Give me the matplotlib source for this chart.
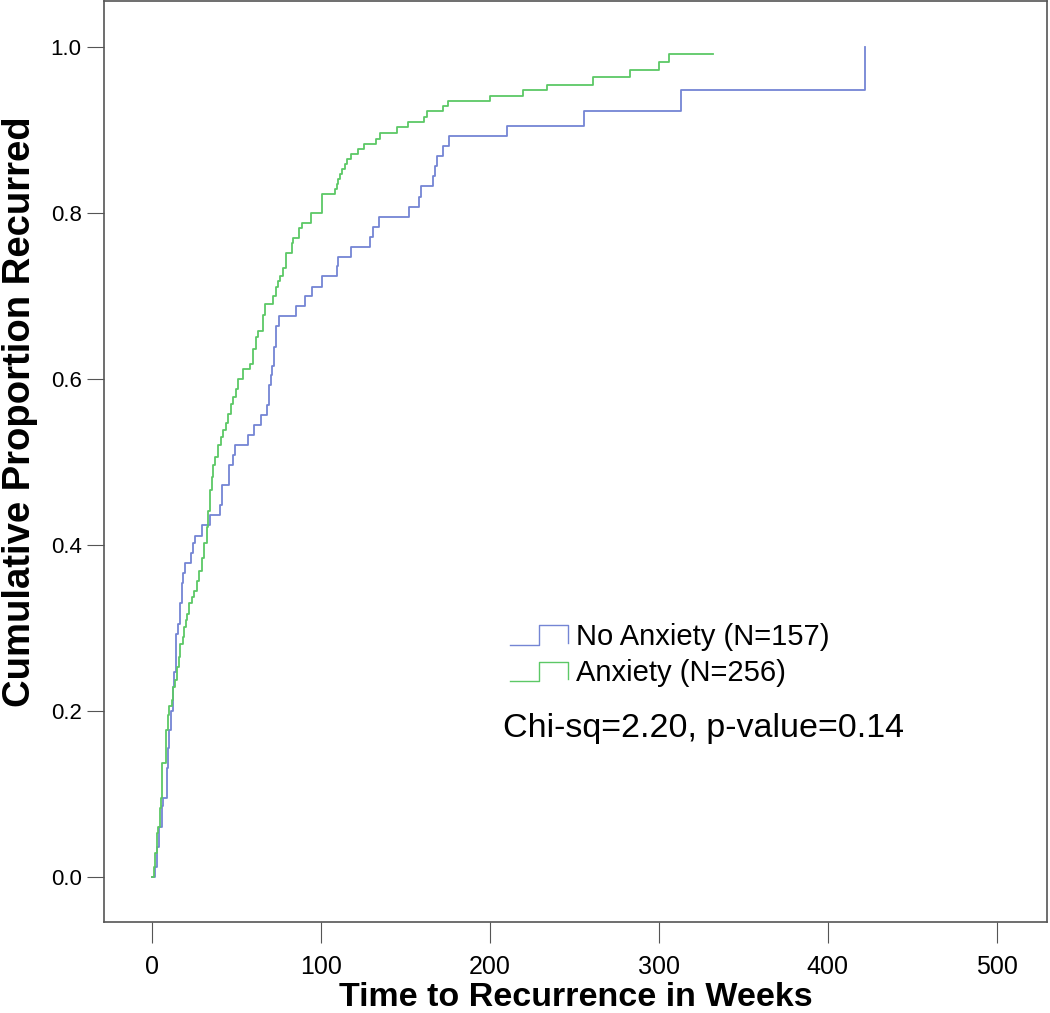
import matplotlib
matplotlib.use('Agg')
import matplotlib.pyplot as plt
from matplotlib.legend_handler import HandlerBase
from matplotlib.lines import Line2D

plt.rcParams['font.family'] = ['Liberation Sans', 'DejaVu Sans']

# Cumulative proportion recurred (Kaplan-Meier style, step after each time)
no_anx_weeks = [0, 1.8, 2.8, 4.3, 5.7, 6.7, 8.7, 9.5, 10, 11.2, 12.6, 13, 14.2, 15.6,
                16.6, 17.6, 18.5, 19.5, 22.9, 24.5, 25.4, 29.4, 34.3, 40.2, 41.2, 45.7,
                48, 49, 57, 60.4, 64.3, 68.2, 69.2, 70.2, 71.2, 72.2, 73.4, 75.3, 85.2,
                90.5, 95, 100.4, 109.6, 110.2, 117.6, 129, 130.6, 134.5, 152.3, 158.2,
                159, 166.5, 167.5, 168.8, 172.4, 176, 210.3, 255.6, 313, 422]
no_anx_prop = [0.0, 0.012, 0.036, 0.06, 0.085, 0.095, 0.131, 0.155, 0.177, 0.2, 0.229,
               0.247, 0.293, 0.305, 0.33, 0.354, 0.366, 0.378, 0.39, 0.402, 0.411, 0.424,
               0.436, 0.448, 0.472, 0.496, 0.508, 0.52, 0.532, 0.544, 0.556, 0.568, 0.592,
               0.604, 0.616, 0.638, 0.664, 0.676, 0.688, 0.7, 0.711, 0.724, 0.736, 0.747,
               0.759, 0.771, 0.783, 0.795, 0.807, 0.819, 0.832, 0.844, 0.856, 0.868,
               0.88, 0.892, 0.904, 0.923, 0.948, 1.0]

anx_weeks = [0, 1.4, 1.8, 2.8, 3.8, 4.7, 5.3, 6.1, 8.1, 9.3, 10.2, 11.6, 12.2, 13.6,
             14.6, 16, 16.6, 18.2, 19, 20, 21, 22, 23.5, 24.9, 26.4, 28, 29.4, 31, 32.4,
             33.3, 34.3, 35.3, 36.3, 37.3, 39.2, 40.6, 42.2, 43.8, 45.2, 46.5, 48, 49.7,
             51, 54, 58, 59.6, 61.3, 63, 65.5, 66.9, 71.8, 73.4, 74.8, 75.7, 77.7, 79.3,
             82.7, 83.6, 87.2, 88.6, 93.9, 100.4, 108.3, 109.3, 110.4, 111.2, 112.2,
             114.2, 115.6, 117.6, 122, 125.2, 132.5, 135, 144.8, 151.7, 161, 163, 172.4,
             175, 200, 219.5, 234, 261, 283, 300, 306, 332]
anx_prop = [0.0, 0.012, 0.029, 0.053, 0.06, 0.083, 0.095, 0.137, 0.177, 0.195, 0.206,
            0.213, 0.229, 0.237, 0.253, 0.265, 0.281, 0.289, 0.301, 0.309, 0.317, 0.33,
            0.337, 0.345, 0.357, 0.369, 0.384, 0.402, 0.421, 0.441, 0.466, 0.482, 0.496,
            0.506, 0.52, 0.53, 0.538, 0.547, 0.558, 0.57, 0.578, 0.588, 0.6, 0.612, 0.618,
            0.636, 0.65, 0.658, 0.677, 0.69, 0.70, 0.71, 0.718, 0.724, 0.734, 0.752,
            0.764, 0.77, 0.782, 0.788, 0.8, 0.823, 0.829, 0.835, 0.841, 0.847, 0.853,
            0.859, 0.865, 0.871, 0.877, 0.883, 0.889, 0.896, 0.903, 0.909, 0.915, 0.922,
            0.928, 0.935, 0.941, 0.948, 0.954, 0.963, 0.972, 0.981, 0.991, 0.991]

labels = ['No Anxiety (N=157)', 'Anxiety (N=256)']
colors = ['#7485d4', '#5cc866']
stat_text = 'Chi-sq=2.20, p-value=0.14'


class StepHandler(HandlerBase):
    # legend key drawn as a small step, like the SPSS output
    def create_artists(self, legend, orig_handle, xdescent, ydescent,
                       width, height, fontsize, trans):
        x0 = -xdescent
        y0 = -ydescent
        h = height * 0.95
        xs = [x0, x0 + width * 0.5, x0 + width * 0.5, x0 + width, x0 + width]
        ys = [y0, y0, y0 + h, y0 + h, y0 + h * 0.1]
        line = Line2D(xs, ys, color=orig_handle.get_color(), lw=1.0)
        line.set_transform(trans)
        return [line]


fig = plt.figure(figsize=(10.5, 10.13), dpi=100)
ax = fig.add_axes([0.099, 0.090, 0.898, 0.909])

h1, = ax.step(no_anx_weeks, no_anx_prop, where='post', color=colors[0], lw=1.3)
h2, = ax.step(anx_weeks, anx_prop, where='post', color=colors[1], lw=1.3)

ax.set_xlim(-28.4, 529.6)
ax.set_ylim(-0.054, 1.055)
ax.set_xticks([0, 100, 200, 300, 400, 500])
ax.set_yticks([0.0, 0.2, 0.4, 0.6, 0.8, 1.0])
ax.set_yticklabels(['0.0', '0.2', '0.4', '0.6', '0.8', '1.0'])

for s in ax.spines.values():
    s.set_color('#555555')
    s.set_linewidth(1.2)
ax.tick_params(axis='x', direction='out', length=15, width=0.8, color='#555555',
               labelsize=18, pad=9)
ax.tick_params(axis='y', direction='out', length=12, width=0.8, color='#555555',
               labelsize=16, pad=4)

ax.set_xlabel('Time to Recurrence in Weeks', fontsize=24.5, fontweight='bold', va='center')
ax.xaxis.set_label_coords(0.5, -0.082)
ax.set_ylabel('Cumulative Proportion Recurred', fontsize=27.5, fontweight='bold',
              va='center')
ax.yaxis.set_label_coords(-0.089, 0.554)

leg = ax.legend([h1, h2], labels, loc='upper left', bbox_to_anchor=(0.4305, 0.325),
                frameon=False, fontsize=21, handler_map={Line2D: StepHandler()},
                handlelength=2.0, handletextpad=0.28, labelspacing=0.3, borderpad=0,
                borderaxespad=0)

ax.text(0.423, 0.210, stat_text, transform=ax.transAxes, fontsize=24.5, va='center')

plt.savefig('out.png', dpi=100)
